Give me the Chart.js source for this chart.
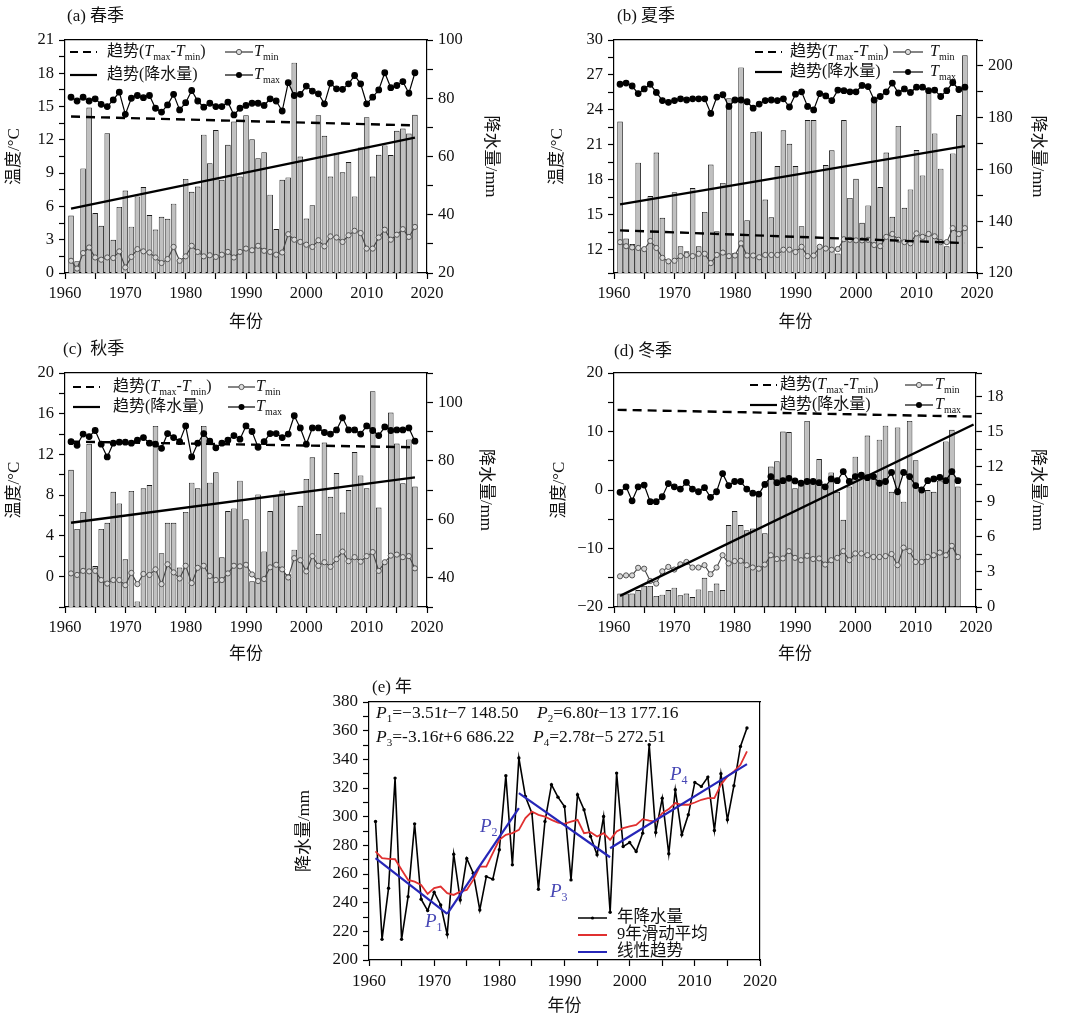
<!DOCTYPE html>
<html>
<head>
<meta charset="utf-8">
<script src="https://cdn.jsdelivr.net/npm/chart.js@4.4.1/dist/chart.umd.min.js"></script>
<style>
  body { margin: 0; background: #fff; width: 1080px; height: 1025px; position: relative; overflow: hidden; }
  canvas { position: absolute; }
</style>
</head>
<body>
<canvas id="ca" width="540" height="335" style="left:0;top:0"></canvas>
<canvas id="cb" width="540" height="335" style="left:540px;top:0"></canvas>
<canvas id="cc" width="540" height="340" style="left:0;top:335px"></canvas>
<canvas id="cd" width="540" height="340" style="left:540px;top:335px"></canvas>
<canvas id="ce" width="500" height="355" style="left:290px;top:670px"></canvas>
<script>
// years 1961-2018
const years = [1961, 1962, 1963, 1964, 1965, 1966, 1967, 1968, 1969, 1970,
  1971, 1972, 1973, 1974, 1975, 1976, 1977, 1978, 1979, 1980,
  1981, 1982, 1983, 1984, 1985, 1986, 1987, 1988, 1989, 1990,
  1991, 1992, 1993, 1994, 1995, 1996, 1997, 1998, 1999, 2000,
  2001, 2002, 2003, 2004, 2005, 2006, 2007, 2008, 2009, 2010,
  2011, 2012, 2013, 2014, 2015, 2016, 2017, 2018];
const winterYears = years.slice(0, 57);

// (a) spring
const springPrecip = [39.7, 24.0, 55.9, 76.8, 40.6, 36.2, 68.0, 31.4, 42.7, 48.3,
  35.9, 46.3, 49.5, 39.9, 34.9, 39.3, 38.6, 43.8, 24.6, 52.3,
  47.9, 49.7, 67.5, 57.7, 69.1, 52.0, 64.0, 72.0, 53.1, 74.2,
  65.9, 59.4, 61.5, 46.9, 35.1, 52.0, 52.8, 92.2, 60.0, 38.7,
  43.3, 74.2, 67.1, 53.1, 61.1, 54.6, 58.1, 46.3, 63.1, 73.5,
  53.1, 60.6, 63.8, 60.5, 68.8, 69.6, 67.9, 74.3];
const springTmax = [15.84, 15.5, 15.84, 15.5, 15.7, 15.2, 15.0, 15.6, 16.3, 14.3,
  15.75, 16.0, 15.8, 16.0, 14.85, 14.5, 15.15, 16.1, 14.7, 15.35,
  16.45, 15.5, 14.95, 15.3, 15.0, 15.0, 15.4, 14.25, 14.85, 15.1,
  15.3, 15.3, 15.1, 15.7, 15.5, 14.6, 17.15, 16.0, 16.1, 16.85,
  16.4, 16.15, 15.25, 17.1, 16.6, 16.55, 17.05, 17.8, 17.05, 15.25,
  15.85, 16.5, 18.05, 16.7, 16.9, 17.25, 16.2, 18.05];
const springTmin = [1.1, 0.4, 1.8, 2.3, 1.4, 1.2, 1.4, 1.35, 1.95, 0.5,
  1.45, 2.15, 1.95, 1.85, 1.4, 0.9, 1.25, 2.35, 1.1, 1.5,
  2.45, 1.9, 1.5, 1.6, 1.45, 1.65, 1.9, 1.4, 1.9, 2.2,
  2.05, 2.45, 2.0, 1.9, 1.65, 1.85, 3.5, 3.0, 2.8, 2.55,
  2.35, 2.95, 2.4, 3.3, 3.2, 2.8, 3.4, 3.8, 3.6, 2.2,
  2.2, 3.2, 3.9, 3.0, 3.45, 3.95, 3.25, 4.15];
const springDiffTrend = [14.1, 13.3];
const springRainTrend = [42.1, 66.5];

// (b) summer
const summerPrecip = [178.5, 133.3, 131.2, 162.6, 129.7, 149.7, 166.5, 141.3, 125.2, 151.2,
  130.3, 128.4, 152.8, 130.3, 143.6, 161.9, 136.1, 154.8, 187.5, 127.7,
  199.4, 140.4, 174.5, 174.7, 148.4, 141.5, 161.3, 175.1, 169.9, 161.3,
  138.1, 179.1, 179.1, 129.7, 161.7, 167.4, 127.5, 179.1, 149.0, 156.4,
  139.4, 146.1, 186.1, 153.2, 166.5, 141.7, 176.8, 145.2, 152.3, 167.5,
  157.7, 190.3, 173.9, 160.3, 130.3, 166.2, 181.0, 204.1];
const summerTmax = [26.2, 26.3, 26.05, 25.4, 25.8, 26.2, 25.5, 24.8, 24.65, 24.8,
  24.95, 24.85, 24.95, 24.95, 24.95, 23.7, 25.1, 25.3, 24.3, 24.85,
  24.85, 24.7, 24.15, 24.5, 24.8, 24.85, 24.8, 24.95, 24.25, 25.35,
  25.55, 24.3, 24.0, 25.4, 25.2, 24.8, 25.7, 25.65, 25.55, 25.55,
  26.1, 26.0, 24.85, 25.15, 25.55, 26.3, 25.45, 25.8, 25.5, 25.95,
  25.95, 25.65, 25.7, 25.15, 25.65, 26.35, 25.75, 25.95];
const summerTmin = [12.65, 12.3, 12.2, 12.15, 12.05, 12.75, 12.15, 11.3, 11.0, 11.05,
  11.45, 11.55, 11.45, 11.65, 11.65, 10.85, 11.55, 11.75, 11.45, 11.5,
  12.55, 11.5, 11.5, 11.35, 11.55, 11.55, 11.55, 12.0, 12.0, 11.8,
  12.25, 11.45, 11.5, 12.25, 12.1, 12.0, 12.05, 12.9, 12.85, 12.8,
  12.8, 12.85, 12.4, 12.3, 13.1, 13.35, 12.85, 12.65, 12.55, 13.4,
  13.1, 13.35, 13.15, 12.65, 12.65, 13.85, 13.35, 13.85];
const summerDiffTrend = [13.66, 12.57];
const summerRainTrend = [146.5, 169.0];

// (c) autumn
const autumnPrecip = [76.9, 56.7, 62.5, 85.8, 44.0, 56.7, 58.8, 69.4, 65.4, 46.3,
  69.7, 31.9, 70.6, 71.7, 91.9, 48.4, 58.8, 58.8, 43.5, 62.5,
  72.5, 70.6, 91.9, 72.5, 76.1, 47.0, 62.8, 63.7, 73.2, 60.0,
  38.8, 68.5, 49.0, 62.8, 68.3, 69.8, 41.2, 49.6, 64.6, 73.8,
  81.2, 55.0, 86.2, 67.7, 75.8, 62.3, 70.0, 83.0, 75.0, 70.6,
  103.8, 64.0, 45.2, 96.5, 85.9, 72.3, 87.3, 71.2];
const autumnTmax = [13.25, 12.9, 14.0, 13.75, 14.35, 13.0, 11.75, 13.1, 13.2, 13.2,
  13.1, 13.4, 13.65, 13.1, 13.0, 12.6, 14.05, 13.65, 13.25, 14.8,
  11.75, 13.1, 14.05, 13.3, 12.65, 13.1, 13.4, 13.85, 13.5, 14.8,
  14.25, 12.7, 13.25, 14.05, 14.05, 13.65, 14.0, 15.8, 14.6, 13.0,
  14.6, 14.6, 14.15, 14.0, 14.4, 15.6, 14.4, 14.4, 14.0, 14.8,
  14.35, 13.85, 14.7, 14.35, 14.4, 14.4, 14.6, 13.3];
const autumnTmin = [0.3, 0.15, 0.55, 0.5, 0.55, -0.35, -0.7, -0.35, -0.35, -0.85,
  0.35, -0.75, 0.25, 0.15, 0.7, -0.75, 1.2, 0.4, -0.2, 1.05,
  -0.65, 0.85, 1.05, 0.05, -0.35, -0.35, 0.3, 1.05, 1.0, 1.15,
  0.2, -0.45, -0.25, 0.9, 1.15, 0.7, -0.1, 1.8, 1.6, 0.5,
  2.0, 1.05, 1.4, 0.95, 1.7, 2.45, 1.5, 1.9, 1.45, 2.0,
  2.4, 0.55, 1.4, 2.05, 2.15, 1.9, 2.0, 0.8];
const autumnDiffTrend = [13.25, 12.7];
const autumnRainTrend = [58.8, 74.3];

// (d) winter, 1961-2017
const winterPrecip = [1.15, 1.15, 1.15, 1.45, 1.8, 1.8, 0.95, 1.05, 1.45, 1.65,
  1.0, 1.15, 0.85, 1.5, 2.5, 1.35, 2.0, 1.45, 7.0, 8.2,
  7.0, 6.55, 6.7, 9.5, 6.3, 12.0, 12.45, 15.0, 14.95, 10.15,
  10.55, 15.9, 10.7, 12.65, 10.15, 11.5, 9.85, 7.45, 10.3, 12.85,
  11.45, 14.65, 11.35, 14.3, 15.5, 9.85, 15.35, 9.0, 15.9, 12.55,
  9.85, 10.0, 9.85, 10.8, 14.15, 15.15, 10.3];
const winterTmax = [-0.4, 0.55, -1.85, 0.55, 0.85, -2.0, -2.0, -1.15, 1.1, 0.55,
  0.15, 1.3, 0.15, -0.3, 0.4, -1.25, -0.3, 2.8, 0.75, 1.45,
  1.45, 0.15, -0.55, -0.7, 0.95, 2.3, 1.25, 1.6, 2.0, 1.55,
  1.15, 1.45, 1.45, 1.25, 0.55, 1.9, 1.6, 3.15, 1.45, 2.3,
  2.55, 2.1, 2.3, 1.15, 1.45, 3.0, -0.3, 3.0, 2.3, 0.75,
  0.0, 1.6, 1.9, 2.15, 1.6, 3.15, 1.6];
const winterTmin = [-14.75, -14.6, -14.6, -13.3, -13.45, -15.55, -16.0, -13.9, -13.15, -13.6,
  -12.7, -12.3, -13.25, -13.25, -12.85, -14.4, -13.25, -11.15, -12.55, -12.15,
  -12.1, -12.85, -13.25, -13.45, -12.75, -11.15, -11.8, -11.7, -10.45, -11.6,
  -12.0, -11.25, -11.8, -11.7, -12.75, -12.0, -11.6, -10.45, -12.0, -10.85,
  -10.85, -11.15, -11.45, -11.45, -11.3, -10.95, -12.85, -9.85, -10.45, -12.3,
  -12.3, -11.45, -11.15, -10.7, -11.15, -9.55, -11.45];
const winterDiffYears = [1960.6, 2019.4];
const winterDiffTrend = [13.7, 12.55];
const winterRainYears = [1961, 2019.6];
const winterRainTrend = [0.95, 15.6];

// (e) annual
const annualPrecip = [296.6, 214.4, 250.1, 326.9, 214.4, 244.2, 295.0, 242.4, 234.5, 247.3,
  238.4, 217.9, 273.8, 241.9, 270.8, 260.5, 234.9, 258.2, 256.4, 276.9,
  328.6, 266.4, 340.9, 314.1, 302.5, 249.4, 296.6, 322.3, 313.6, 307.1,
  255.9, 315.3, 304.8, 286.2, 273.4, 300.1, 233.3, 330.4, 279.2, 282.0,
  275.7, 288.5, 350.2, 289.0, 312.9, 274.1, 318.8, 287.3, 301.3, 323.9,
  321.1, 327.6, 290.4, 329.9, 297.8, 321.6, 349.0, 361.9];
const annualMA9 = [275.7, 271.0, 270.6, 270.3, 262.9, 255.9, 254.7, 252.4, 246.1, 250.1,
  251.2, 246.6, 245.4, 247.7, 248.9, 255.9, 265.2, 265.2, 274.5, 283.8,
  287.3, 288.5, 290.8, 299.0, 303.6, 301.3, 300.1, 297.8, 295.9, 295.0,
  296.6, 297.8, 288.5, 289.2, 286.2, 288.5, 283.8, 289.7, 292.0, 293.2,
  294.3, 298.3, 297.3, 296.6, 302.5, 305.3, 309.5, 308.3, 308.3, 309.9,
  311.8, 312.9, 312.9, 322.3, 328.1, 331.6, 336.2, 345.5];
const segYears = [[1961, 1972], [1972, 1983], [1983, 1997], [1997, 2018]];
const segValues = [[271.0, 232.1], [232.1, 306.0], [316.4, 271.7], [278.0, 336.7]];

const FONT = '"Liberation Serif", "Noto Sans CJK SC", serif';
Chart.defaults.font.family = FONT;
Chart.defaults.font.size = 16;
Chart.defaults.color = '#111';
Chart.defaults.animation = false;

function pts(xs, ys) {
  return ys.map((v, i) => ({ x: xs[i], y: v }));
}

function tickText(major, maxLabel) {
  return function (v) {
    var r = v / major;
    if (Math.abs(r - Math.round(r)) > 1e-6) return '';
    if (maxLabel !== undefined && v > maxLabel) return '';
    return v < 0 ? '\u2212' + Math.abs(v) : String(v);
  }
}

// force axis box size so the plot area lands where the reference has it
function fixSize(w, h) {
  return function (scale) {
    if (w !== undefined) scale.width = w;
    if (h !== undefined) scale.height = h;
  }
}

function axis(pos, min, max, step, label) {
  return {
    type: 'linear', position: pos, min: min, max: max, offset: false,
    border: { display: true, color: '#000', width: 1.2 },
    grid: { drawOnChartArea: false, drawTicks: true, tickLength: 6, tickWidth: 1.2, color: '#000', offset: false },
    ticks: { stepSize: step, padding: 5, autoSkip: false, maxRotation: 0, color: '#111', font: { size: 16.5 }, callback: label, display: !!label }
  }
}

function title(text, pad) {
  return { display: true, text: text, color: '#111', font: { size: 17 }, padding: { top: pad, bottom: pad } };
}

// text with italic / subscript parts
function rich(ctx, x, y, parts, size, color) {
  ctx.save();
  ctx.fillStyle = color || '#111';
  ctx.textBaseline = 'middle';
  ctx.textAlign = 'left';
  parts.forEach(function (p) {
    var s = p[1] || '', fs = size, dy = 0;
    if (s.indexOf('s') >= 0) { fs = Math.round(size * 0.62); dy = size * 0.33; }
    ctx.font = (s.indexOf('i') >= 0 ? 'italic ' : '') + fs + 'px ' + FONT;
    ctx.fillText(p[0], x, y + dy);
    x += ctx.measureText(p[0]).width;
  });
  ctx.restore();
}

function seg(ctx, x1, y1, x2, y2) {
  ctx.beginPath(); ctx.moveTo(x1, y1); ctx.lineTo(x2, y2); ctx.stroke();
}

function dot(ctx, x, y, r, fill, stroke) {
  ctx.beginPath(); ctx.arc(x, y, r, 0, Math.PI * 2);
  ctx.fillStyle = fill; ctx.fill();
  if (stroke) { ctx.strokeStyle = stroke; ctx.lineWidth = 1; ctx.stroke(); }
}

const panelLabel = {
  id: 'panelLabel',
  afterDraw(chart, args, o) {
    rich(chart.ctx, o.x, o.y, [[o.text]], o.size || 17);
  }
};

const seasonLegend = {
  id: 'seasonLegend',
  afterDatasetsDraw(chart, args, o) {
    const ctx = chart.ctx;
    ctx.save();
    ctx.strokeStyle = '#000';
    ctx.lineWidth = 2.2;
    ctx.setLineDash([8, 5]);
    seg(ctx, o.x1, o.y1, o.x2, o.y1);
    ctx.setLineDash([]);
    seg(ctx, o.x1, o.y2, o.x2, o.y2);
    ctx.lineWidth = 1.2;
    ctx.strokeStyle = '#333';
    seg(ctx, o.sx1, o.y1, o.sx2, o.y1);
    ctx.strokeStyle = '#000';
    seg(ctx, o.sx1, o.y2, o.sx2, o.y2);
    dot(ctx, (o.sx1 + o.sx2) / 2, o.y1, 2.6, '#ddd', '#555');
    dot(ctx, (o.sx1 + o.sx2) / 2, o.y2, 3, '#000');
    ctx.restore();
    rich(ctx, o.tx, o.y1, [['趋势('], ['T', 'i'], ['max', 's'], ['-'], ['T', 'i'], ['min', 's'], [')']], 16);
    rich(ctx, o.tx, o.y2, [['趋势(降水量)']], 16);
    rich(ctx, o.stx, o.y1, [['T', 'i'], ['min', 's']], 16);
    rich(ctx, o.stx, o.y2, [['T', 'i'], ['max', 's']], 16);
  }
};

function seasonChart(id, s) {
  const x = axis('bottom', 1960, 2020, 5, tickText(10));
  x.afterFit = fixSize(undefined, s.box.bottom);
  x.title = title('年份', s.pad.x);
  const xt = axis('top', 1960, 2020, 5, null);
  xt.afterFit = fixSize(undefined, 0);
  const y = axis('left', s.temp.min, s.temp.max, s.temp.step, tickText(s.temp.major));
  y.afterFit = fixSize(s.box.left);
  y.title = title('温度/°C', s.pad.l);
  const y2 = axis('right', s.rain.min, s.rain.max, s.rain.step, tickText(s.rain.major, s.rain.maxLabel));
  y2.afterFit = fixSize(s.box.right);
  y2.title = title('降水量/mm', s.pad.r);

  new Chart(document.getElementById(id), {
    type: 'bar',
    data: {
      datasets: [
        {
          type: 'bar', label: '降水量', data: pts(s.years, s.precip), xAxisID: 'x', yAxisID: 'y2',
          backgroundColor: '#c0c0c0', borderColor: '#1a1a1a', borderWidth: 0.9,
          barPercentage: 1, categoryPercentage: 0.92, order: 10
        },
        {
          type: 'line', label: 'Tmin', data: pts(s.years, s.tmin), xAxisID: 'x', yAxisID: 'y',
          borderColor: '#444', borderWidth: 1.1, pointRadius: 2.6, pointBackgroundColor: '#d8d8d8',
          pointBorderColor: '#555', pointBorderWidth: 1, tension: 0, order: 3
        },
        {
          type: 'line', label: 'Tmax', data: pts(s.years, s.tmax), xAxisID: 'x', yAxisID: 'y',
          borderColor: '#000', borderWidth: 1.2, pointRadius: 2.8, pointBackgroundColor: '#000',
          pointBorderColor: '#000', tension: 0, order: 2
        },
        {
          type: 'line', label: '趋势(Tmax-Tmin)', data: pts(s.diffX, s.diffY), xAxisID: 'x', yAxisID: 'y',
          borderColor: '#000', borderWidth: 2.4, borderDash: [9, 6], pointRadius: 0, order: 1
        },
        {
          type: 'line', label: '趋势(降水量)', data: pts(s.rainX, s.rainY), xAxisID: 'x', yAxisID: 'y2',
          borderColor: '#000', borderWidth: 2.4, pointRadius: 0, order: 1
        }
      ]
    },
    options: {
      responsive: false,
      events: [],
      layout: { padding: { top: s.box.top, left: 0, right: 0, bottom: 0 } },
      scales: { x: x, xt: xt, y: y, y2: y2 },
      plugins: {
        legend: { display: false },
        tooltip: { enabled: false },
        panelLabel: s.label,
        seasonLegend: s.legend
      }
    },
    plugins: [panelLabel, seasonLegend]
  });
}

seasonChart('ca', {
  years: years, precip: springPrecip, tmax: springTmax, tmin: springTmin,
  diffX: [1961, 2018], diffY: springDiffTrend, rainX: [1961, 2018], rainY: springRainTrend,
  temp: { min: 0, max: 21, step: 1.5, major: 3 },
  rain: { min: 20, max: 100, step: 10, major: 20 },
  box: { top: 40, left: 65, right: 113, bottom: 62 },
  pad: { l: 4.8, r: 39.8, x: 1.8 },
  label: { text: '(a) 春季', x: 67, y: 17 },
  legend: { x1: 70, x2: 97, tx: 107, sx1: 225, sx2: 253, stx: 254, y1: 52, y2: 75 }
});

seasonChart('cb', {
  years: years, precip: summerPrecip, tmax: summerTmax, tmin: summerTmin,
  diffX: [1961, 2018], diffY: summerDiffTrend, rainX: [1961, 2018], rainY: summerRainTrend,
  temp: { min: 10, max: 30, step: 1.5, major: 3 },
  rain: { min: 120, max: 210, step: 10, major: 20, maxLabel: 200 },
  box: { top: 40, left: 74, right: 103, bottom: 62 },
  pad: { l: 7.8, r: 32.8, x: 1.8 },
  label: { text: '(b) 夏季', x: 77, y: 17 },
  legend: { x1: 215, x2: 242, tx: 250, sx1: 353, sx2: 383, stx: 390, y1: 52, y2: 72 }
});

seasonChart('cc', {
  years: years, precip: autumnPrecip, tmax: autumnTmax, tmin: autumnTmin,
  diffX: [1961, 2018], diffY: autumnDiffTrend, rainX: [1961, 2018], rainY: autumnRainTrend,
  temp: { min: -3, max: 20, step: 2, major: 4 },
  rain: { min: 30, max: 110, step: 10, major: 20 },
  box: { top: 38, left: 65, right: 113, bottom: 68 },
  pad: { l: 4.8, r: 44.8, x: 9.8 },
  label: { text: '(c)  秋季', x: 63, y: 15 },
  legend: { x1: 73, x2: 100, tx: 113, sx1: 228, sx2: 255, stx: 256, y1: 52, y2: 72 }
});

seasonChart('cd', {
  years: winterYears, precip: winterPrecip, tmax: winterTmax, tmin: winterTmin,
  diffX: winterDiffYears, diffY: winterDiffTrend, rainX: winterRainYears, rainY: winterRainTrend,
  temp: { min: -20, max: 20, step: 5, major: 10 },
  rain: { min: 0, max: 20, step: 1.5, major: 3, maxLabel: 18 },
  box: { top: 38, left: 74, right: 104, bottom: 68 },
  pad: { l: 9.8, r: 32.8, x: 9.8 },
  label: { text: '(d) 冬季', x: 74, y: 17 },
  legend: { x1: 210, x2: 237, tx: 240, sx1: 365, sx2: 393, stx: 395, y1: 50, y2: 70 }
});

// (e) annual precipitation with piecewise trends
const annualNotes = {
  id: 'annualNotes',
  afterDatasetsDraw(chart, args, o) {
    const ctx = chart.ctx;
    const eq = [
      [86, 43, [['P', 'i'], ['1', 's'], ['=\u22123.51'], ['t', 'i'], ['\u22127 148.50']]],
      [247, 43, [['P', 'i'], ['2', 's'], ['=6.80'], ['t', 'i'], ['\u221213 177.16']]],
      [86, 67, [['P', 'i'], ['3', 's'], ['=-3.16'], ['t', 'i'], ['+6 686.22']]],
      [243, 67, [['P', 'i'], ['4', 's'], ['=2.78'], ['t', 'i'], ['\u22125 272.51']]]
    ];
    eq.forEach(e => rich(ctx, e[0], e[1], e[2], 17.5));
    const pl = [[135, 252, '1'], [190, 157, '2'], [260, 222, '3'], [380, 105, '4']];
    pl.forEach(p => rich(ctx, p[0], p[1], [['P', 'i'], [p[2], 's']], 19, '#4646b4'));
    // legend
    const rows = [[248, '#000', '年降水量'], [265, '#e03030', '9年滑动平均'], [282, '#2626b8', '线性趋势']];
    rows.forEach(function (r, i) {
      ctx.save();
      ctx.strokeStyle = r[1];
      ctx.lineWidth = i == 0 ? 1.5 : 2;
      seg(ctx, 288, r[0], 317, r[0]);
      ctx.restore();
      if (i == 0) dot(ctx, 302.5, r[0], 1.6, '#000');
      rich(ctx, 327, r[0], [[r[2]]], 16.5);
    });
  }
};

(function () {
  const x = axis('bottom', 1960, 2020, 5, tickText(10));
  x.ticks.font = { size: 17 };
  x.afterFit = fixSize(undefined, 65);
  x.title = title('年份', 7.8);
  const xt = axis('top', 1960, 2020, 5, null);
  xt.afterFit = fixSize(undefined, 0);
  const y = axis('left', 200, 380, 10, tickText(20));
  y.ticks.font = { size: 17 };
  y.afterFit = fixSize(79);
  y.title = title('降水量/mm', 4.8);
  const yr = axis('right', 200, 380, 10, null);
  yr.afterFit = fixSize(30);

  const datasets = [
    {
      label: '年降水量', data: pts(years, annualPrecip), borderColor: '#000', borderWidth: 1.6,
      pointRadius: 1.7, pointBackgroundColor: '#000', pointBorderWidth: 0, tension: 0, order: 3
    },
    {
      label: '9年滑动平均', data: pts(years, annualMA9), borderColor: '#e03030', borderWidth: 1.8,
      pointRadius: 0, tension: 0, order: 2
    }
  ];
  segYears.forEach(function (sy, i) {
    datasets.push({
      label: '线性趋势', data: pts(sy, segValues[i]), borderColor: '#2626b8', borderWidth: 2.2,
      pointRadius: 0, order: 1
    });
  });

  new Chart(document.getElementById('ce'), {
    type: 'line',
    data: { datasets: datasets },
    options: {
      responsive: false,
      events: [],
      layout: { padding: { top: 32, left: 0, right: 0, bottom: 0 } },
      scales: { x: x, xt: xt, y: y, yr: yr },
      plugins: {
        legend: { display: false },
        tooltip: { enabled: false },
        panelLabel: { text: '(e) 年', x: 82, y: 18 }
      }
    },
    plugins: [panelLabel, annualNotes]
  });
})();
</script>
</body>
</html>
